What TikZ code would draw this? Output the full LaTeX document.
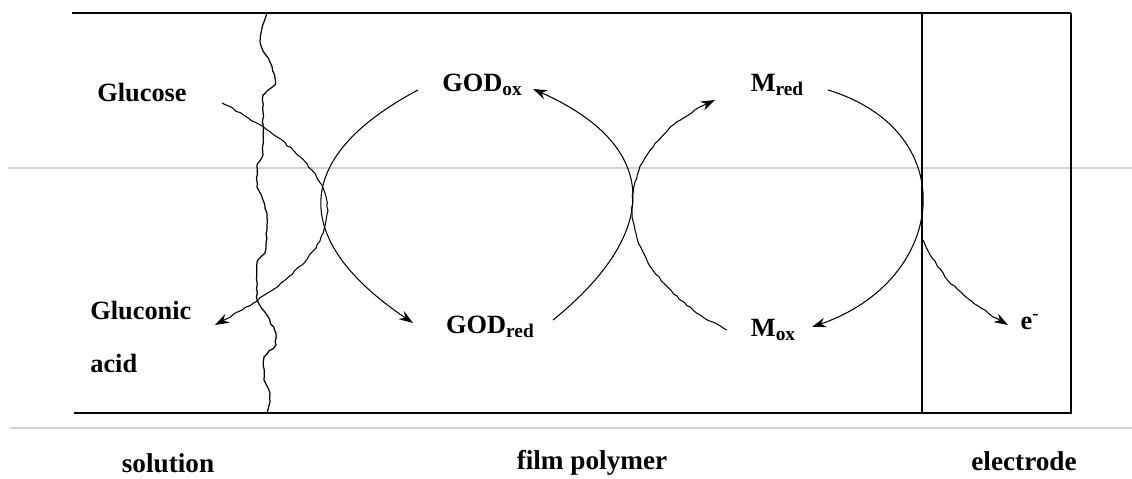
\documentclass[tikz,border=0pt]{standalone}
\usepackage{fontspec}
\setmainfont{Liberation Serif}
\usepackage{tikz}
\usetikzlibrary{arrows.meta,decorations.pathmorphing}

\newcommand{\lowsub}[1]{\raisebox{-2pt}{\fontsize{11}{12}\selectfont #1}}

\begin{document}
\begin{tikzpicture}[x=0.02cm, y=0.02cm, >={Stealth[length=8pt, width=5.5pt]},
  lbl/.style={font=\fontsize{15}{17}\selectfont\bfseries, inner sep=0pt},
  zone/.style={font=\fontsize{15.5}{18}\selectfont\bfseries, inner sep=0pt},
  wavy/.style={decorate, decoration={random steps, segment length=2.5pt,
    amplitude=0.45pt, pre=lineto, pre length=2pt, post=lineto, post length=7pt}}]
  \pgfmathsetseed{11}
  \useasboundingbox (0,0) rectangle (1132,479);

  % faint scan lines
  \draw[gray!35, line width=1pt] (8,311) -- (1132,311);
  \draw[gray!35, line width=1pt] (10,51) -- (1132,51);

  % frame and electrode
  \draw[line width=1pt] (72,466) -- (1071,466);
  \draw[line width=1.6pt] (74,66) -- (1072,66);
  \coordinate (eltop) at (922,466);
  \coordinate (elbot) at (922,66);
  \draw[line width=1.6pt] (eltop) -- (elbot);
  \draw[line width=0.9pt] (1071,466) -- (1071,66);

  % solution / film boundary
  \draw[wavy, line width=0.7pt] (267,466) -- (262,451) -- (260,437) -- (263,428)
    -- (270,417) -- (275,401) -- (275,394) -- (263,384) -- (263,324) -- (257,314)
    -- (257,292) -- (263,279) -- (267,266) -- (267,249) -- (265,226) -- (257,217)
    -- (257,179) -- (267,164) -- (276,146) -- (276,134) -- (264,122) -- (264,99)
    -- (270,86) -- (270,69) -- (267,66);

  % species
  \node[lbl] (glucose) at (142,386) {Glucose};
  \node[lbl, anchor=west] (gluconic) at (90,168) {Gluconic};
  \node[lbl, anchor=west] (acid) at (90,116) {acid};
  \node[lbl] (godox) at (482,394) {GOD\lowsub{ox}};
  \node[lbl] (godred) at (490,152) {GOD\lowsub{red}};
  \node[lbl] (mred) at (777,394) {M\lowsub{red}};
  \node[lbl] (mox) at (773,149) {M\lowsub{ox}};
  \node[lbl] (eminus) at (1030,157) {e\textsuperscript{-}};

  % zones
  \node[zone] (sol) at (168,16) {solution};
  \node[zone] (film) at (592,16) {film polymer};
  \node[zone] (elec) at (1024,18) {electrode};

  % reactions
  \draw[->, wavy, line width=0.6pt] ([shift={(80,-10)}]glucose.center)
    to[out=-28, in=28, looseness=1.89] ([shift={(125,-14)}]gluconic.west);
  \draw[->, line width=0.6pt] ([shift={(-64,-5)}]godox.center)
    to[out=208, in=146, looseness=1.6] ([shift={(-77,4)}]godred.center);
  \draw[->, line width=0.6pt] ([shift={(63,7)}]godred.center)
    to[out=39, in=-24, looseness=1.55] ([shift={(51,-4)}]godox.center);
  \draw[->, wavy, line width=0.6pt] ([shift={(-46,0)}]mox.center)
    to[out=154, in=204, looseness=1.45] ([shift={(-62,-15)}]mred.center);
  \draw[->, line width=0.6pt] ([shift={(51,-5)}]mred.center)
    to[out=-17, in=19, looseness=1.54] ([shift={(39,3)}]mox.center);
  \draw[->, wavy, line width=0.6pt] ([shift={(1,-227)}]eltop)
    to[out=-65, in=150] ([shift={(-22,-3)}]eminus.center);
\end{tikzpicture}
\end{document}
